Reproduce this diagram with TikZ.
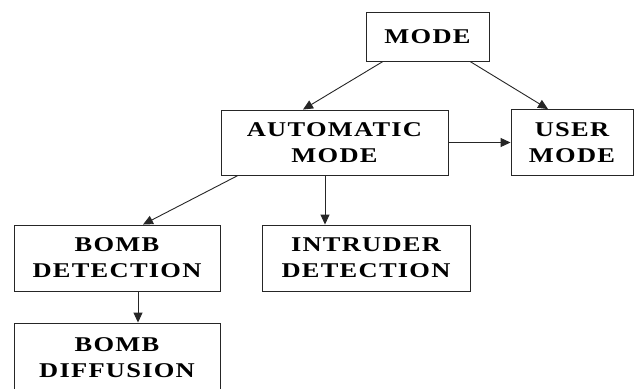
\documentclass[tikz,border=0pt]{standalone}
\usepackage{fontspec}
\newfontfamily\lblfont{Liberation Serif}[FakeStretch=1.26,LetterSpace=6]
\usetikzlibrary{arrows.meta,calc}
\begin{document}
\begin{tikzpicture}[x=1pt,y=-1pt,
  box/.style={draw=black!85,line width=0.9pt,fill=white,inner sep=0pt,align=center,
    font=\lblfont\bfseries\fontsize{21}{26}\selectfont},
  arr/.style={draw=black!85,line width=0.9pt,-{Triangle[length=10pt,width=9pt]}}]
\useasboundingbox (0,0) rectangle (634,388);
\clip (0,0) rectangle (634,388);
\fill[white] (0,0) rectangle (634,388);
\node[box,minimum width=123,minimum height=49] (mode) at (427.5,36.5) {MODE};
\node[box,minimum width=227,minimum height=65] (auto) at (334.5,142.5) {AUTOMATIC\\MODE};
\node[box,minimum width=122,minimum height=66] (user) at (572,142.5) {USER\\MODE};
\node[box,minimum width=206,minimum height=66] (bdet) at (117,258) {BOMB\\DETECTION};
\node[box,minimum width=208,minimum height=66] (intr) at (366,258) {INTRUDER\\DETECTION};
\node[box,minimum width=206,minimum height=70] (bdif) at (117,358) {BOMB\\DIFFUSION};
\draw[arr] ([xshift=-44.5]mode.south) -- ([xshift=-31.5]auto.north);
\draw[arr] ([xshift=42.5]mode.south) -- ([xshift=-24]user.north);
\draw[arr] (auto.east) -- (user.west);
\draw[arr] ([xshift=-96.5]auto.south) -- ([xshift=26]bdet.north);
\draw[arr] ([xshift=-9.5]auto.south) -- ([xshift=-41]intr.north);
\draw[arr] ([xshift=21]bdet.south) -- ([xshift=21]bdif.north);
\end{tikzpicture}
\end{document}
